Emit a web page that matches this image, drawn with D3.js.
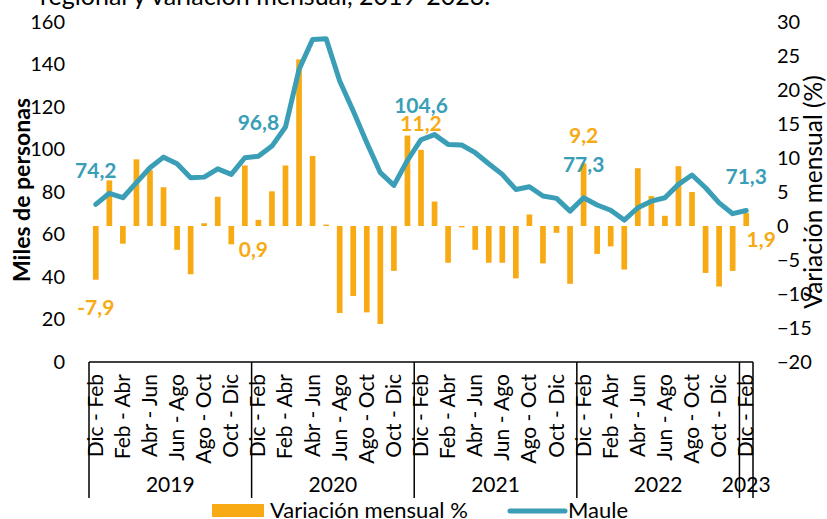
<!DOCTYPE html>
<html>
<head>
<meta charset="utf-8">
<script src="https://cdn.jsdelivr.net/npm/d3@7"></script>
<style>
  html, body { margin: 0; padding: 0; background: #fff; }
  svg { display: block; font-family: Lato, "Liberation Sans", sans-serif; }
</style>
</head>
<body>
<svg id="chart" width="827" height="519"></svg>
<script>
// ---------- data ----------
const categories = [
  "Dic - Feb","Ene - Mar","Feb - Abr","Mar - May","Abr - Jun","May - Jul","Jun - Ago","Jul - Sep","Ago - Oct","Sep - Nov","Oct - Dic","Nov - Ene",
  "Dic - Feb","Ene - Mar","Feb - Abr","Mar - May","Abr - Jun","May - Jul","Jun - Ago","Jul - Sep","Ago - Oct","Sep - Nov","Oct - Dic","Nov - Ene",
  "Dic - Feb","Ene - Mar","Feb - Abr","Mar - May","Abr - Jun","May - Jul","Jun - Ago","Jul - Sep","Ago - Oct","Sep - Nov","Oct - Dic","Nov - Ene",
  "Dic - Feb","Ene - Mar","Feb - Abr","Mar - May","Abr - Jun","May - Jul","Jun - Ago","Jul - Sep","Ago - Oct","Sep - Nov","Oct - Dic","Nov - Ene",
  "Dic - Feb"
];
const years = ["2019", "2020", "2021", "2022", "2023"];
const yearCounts = [12, 12, 12, 12, 1];

// Maule, miles de personas (left axis)
const maule = [
  74.2, 79.4, 77.3, 84.4, 91.4, 96.4, 93.3, 86.7, 87.0, 90.9, 88.3, 96.1,
  96.8, 101.6, 110.6, 137.7, 151.8, 152.1, 132.2, 118.1, 103.2, 89.1, 83.1, 94.9,
  104.6, 107.0, 102.4, 102.1, 98.5, 93.3, 88.3, 81.2, 82.5, 78.1, 77.0, 71.0,
  77.3, 73.9, 71.4, 66.8, 72.6, 75.7, 77.3, 83.6, 88.0, 82.0, 74.9, 69.8,
  71.3
];
// Variación mensual % (right axis)
const variacion = [
  -7.9, 6.7, -2.6, 9.8, 8.2, 5.7, -3.5, -7.1, 0.4, 4.3, -2.7, 8.9,
  0.9, 5.1, 8.9, 24.5, 10.3, 0.2, -12.8, -10.3, -12.7, -14.4, -6.6, 13.3,
  11.2, 3.6, -5.4, -0.2, -3.5, -5.4, -5.4, -7.7, 1.7, -5.5, -1.0, -8.5,
  9.2, -4.1, -3.0, -6.4, 8.5, 4.4, 1.5, 8.8, 5.0, -6.9, -8.9, -6.6,
  1.9
];
const leftTicks = [0, 20, 40, 60, 80, 100, 120, 140, 160];
const rightTicks = [-20, -15, -10, -5, 0, 5, 10, 15, 20, 25, 30];
const labelledIdx = [0, 12, 24, 36, 48];

// ---------- styles / layout ----------
const ORANGE = "#F7AA14";
const TEAL = "#3A9EB6";
const svg = d3.select("#chart");
const X0 = 89, X1 = 753, YTOP = 22, YBOT = 362;

const x = d3.scaleBand().domain(d3.range(categories.length)).range([X0, X1]).padding(0);
const yL = d3.scaleLinear().domain([0, 160]).range([YBOT, YTOP]);
const yR = d3.scaleLinear().domain([-20, 30]).range([YBOT, YTOP]);
const cx = i => x(i) + x.bandwidth() / 2;

// title (partially cut at top)
svg.append("text").attr("x", 40).attr("y", 5)
  .attr("font-size", 25).attr("fill", "#000")
  .text("regional y variación mensual, 2019-2023.");

// left axis
const gL = svg.append("g").attr("transform", `translate(${X0},0)`)
  .call(d3.axisLeft(yL).tickValues(leftTicks).tickSize(0).tickPadding(24));
gL.select(".domain").remove();
gL.selectAll("text").attr("font-size", 20).attr("font-family", "Lato").attr("fill", "#000");

// right axis
const gR = svg.append("g").attr("transform", `translate(${X1},0)`)
  .call(d3.axisRight(yR).tickValues(rightTicks).tickSize(0).tickPadding(24));
gR.select(".domain").remove();
gR.selectAll("text").attr("font-size", 20).attr("font-family", "Lato").attr("fill", "#000");

// axis titles
svg.append("text").attr("transform", "translate(30,190) rotate(-90)")
  .attr("text-anchor", "middle").attr("font-size", 23).attr("font-weight", "bold")
  .text("Miles de personas");
svg.append("text").attr("transform", "translate(822,192) rotate(-90)")
  .attr("text-anchor", "middle").attr("font-size", 24.5)
  .text("Variación mensual (%)");

// bars
const bw = x.bandwidth() * 0.42;
svg.append("g").selectAll("rect").data(variacion).join("rect")
  .attr("x", (d, i) => cx(i) - bw / 2)
  .attr("width", bw)
  .attr("y", d => yR(Math.max(d, 0)))
  .attr("height", d => Math.abs(yR(d) - yR(0)))
  .attr("fill", ORANGE);

// line
const line = d3.line().x((d, i) => cx(i)).y(d => yL(d));
svg.append("path").datum(maule).attr("d", line)
  .attr("fill", "none").attr("stroke", TEAL).attr("stroke-width", 5)
  .attr("stroke-linejoin", "round").attr("stroke-linecap", "round");

// data labels
const barLabelOffsets = [[0, 35], [-5, 37], [0, -19], [0, -20], [15, 34]];
const lineLabelOffsets = [[0, -26], [0, -26], [0, -27], [0, -26], [0, -26]];
const fmt = v => String(v.toFixed(1)).replace(".", ",");
svg.append("g").selectAll("text").data(labelledIdx).join("text")
  .attr("x", (i, k) => cx(i) + barLabelOffsets[k][0])
  .attr("y", (i, k) => yR(variacion[i]) + barLabelOffsets[k][1])
  .attr("text-anchor", "middle").attr("font-size", 21).attr("font-weight", "bold")
  .attr("fill", ORANGE).text(i => fmt(variacion[i]));
svg.append("g").selectAll("text").data(labelledIdx).join("text")
  .attr("x", (i, k) => cx(i) + lineLabelOffsets[k][0])
  .attr("y", (i, k) => yL(maule[i]) + lineLabelOffsets[k][1])
  .attr("text-anchor", "middle").attr("font-size", 21).attr("font-weight", "bold")
  .attr("fill", TEAL).text(i => fmt(maule[i]));

// category axis
const gX = svg.append("g");
gX.append("line").attr("x1", X0).attr("x2", X1).attr("y1", YBOT).attr("y2", YBOT)
  .attr("stroke", "#000").attr("stroke-width", 1.5);
gX.selectAll("text.cat").data(d3.range(categories.length).filter(i => i % 2 === 0)).join("text")
  .attr("class", "cat")
  .attr("transform", i => `translate(${cx(i) + 7},${YBOT + 12}) rotate(-90)`)
  .attr("text-anchor", "end").attr("font-size", 21).attr("fill", "#000")
  .text(i => categories[i]);

// year groups
let start = 0;
const bounds = [0];
yearCounts.forEach(c => { start += c; bounds.push(start); });
gX.selectAll("line.div").data(bounds).join("line").attr("class", "div")
  .attr("x1", b => b < categories.length ? x(b) : X1)
  .attr("x2", b => b < categories.length ? x(b) : X1)
  .attr("y1", YBOT).attr("y2", 498)
  .attr("stroke", "#000").attr("stroke-width", 1.5);
gX.selectAll("text.year").data(years).join("text").attr("class", "year")
  .attr("x", (d, k) => {
    const a = x(bounds[k]);
    const b = bounds[k + 1] < categories.length ? x(bounds[k + 1]) : X1;
    return (a + b) / 2;
  })
  .attr("y", 492).attr("text-anchor", "middle").attr("font-size", 21).attr("fill", "#000")
  .text(d => d);

// legend
const lg = svg.append("g");
lg.append("rect").attr("x", 212).attr("y", 504).attr("width", 52).attr("height", 13).attr("fill", ORANGE);
lg.append("text").attr("x", 270).attr("y", 518).attr("font-size", 22).text("Variación mensual %");
lg.append("line").attr("x1", 510).attr("x2", 565).attr("y1", 511).attr("y2", 511)
  .attr("stroke", TEAL).attr("stroke-width", 5).attr("stroke-linecap", "round");
lg.append("text").attr("x", 568).attr("y", 518).attr("font-size", 22).text("Maule");
</script>
</body>
</html>
